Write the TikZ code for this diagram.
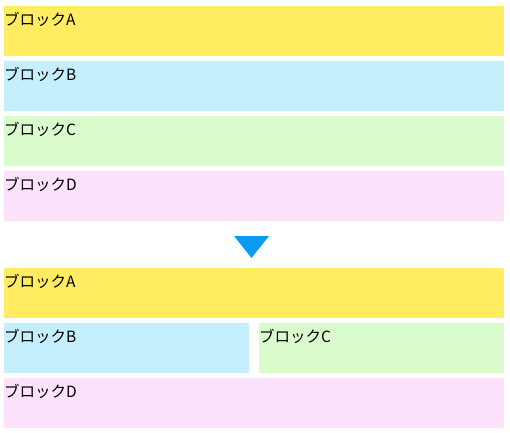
\documentclass[tikz,border=0pt]{standalone}
\usepackage{fontspec}
\newfontfamily\jpfont{Noto Sans CJK JP}
\definecolor{cA}{RGB}{255,236,96}
\definecolor{cB}{RGB}{198,239,253}
\definecolor{cC}{RGB}{218,252,204}
\definecolor{cD}{RGB}{252,226,251}
\definecolor{cT}{RGB}{10,155,245}
\begin{document}
\begin{tikzpicture}[x=1pt,y=-1pt,
  lbl/.style={inner sep=0pt,anchor=base west,font=\jpfont\fontsize{15.5}{17}\selectfont}]
\useasboundingbox (0,0) rectangle (510,432);
% top
\fill[cA] (4,6) rectangle (504,56);
\node[lbl] (ta) at (4,25) {ブロックA};
\fill[cB] (4,61) rectangle (504,111);
\node[lbl] (tb) at (4,80) {ブロックB};
\fill[cC] (4,116) rectangle (504,166);
\node[lbl] (tc) at (4,135) {ブロックC};
\fill[cD] (4,171) rectangle (504,221);
\node[lbl] (td) at (4,190) {ブロックD};
% arrow
\fill[cT] (234,236) -- (269,236) -- (251.5,258) -- cycle;
% bottom
\fill[cA] (4,268) rectangle (504,318);
\node[lbl] (ba) at (4,287) {ブロックA};
\fill[cB] (4,323) rectangle (249,373);
\node[lbl] (bb) at (4,342) {ブロックB};
\fill[cC] (259,323) rectangle (504,373);
\node[lbl] (bc) at (259,342) {ブロックC};
\fill[cD] (4,378) rectangle (504,428);
\node[lbl] (bd) at (4,397) {ブロックD};
\end{tikzpicture}
\end{document}
